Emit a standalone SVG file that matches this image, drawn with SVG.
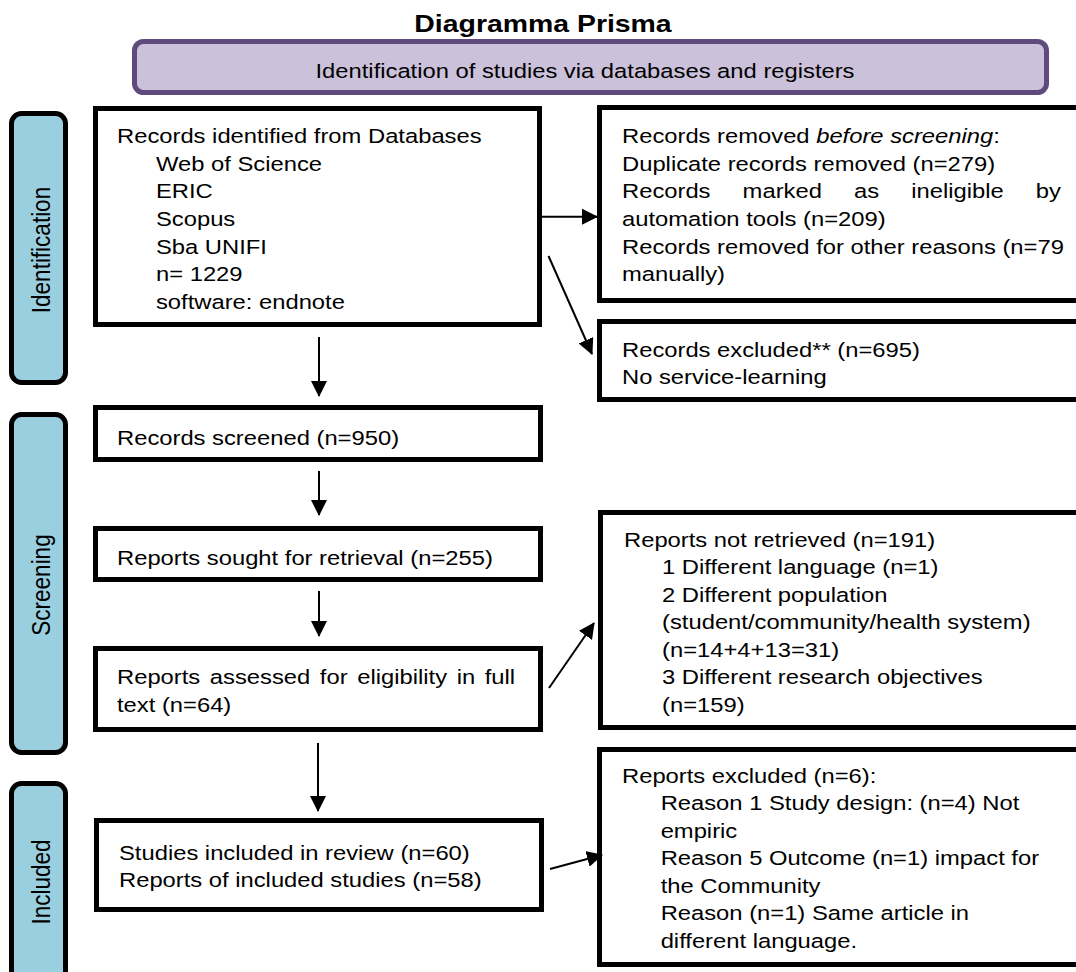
<svg xmlns="http://www.w3.org/2000/svg" width="1076" height="972" viewBox="0 0 1076 972">
<style>
  text { font-family: "Liberation Sans", Arial, sans-serif; fill: #000; }
  .body { font-size: 20.5px; }
  .lab { font-size: 22.5px; }
  .title { font-size: 24.5px; font-weight: bold; }
  .box { fill: #fff; stroke: #000; stroke-width: 5; }
  .side { fill: #9ACFE0; stroke: #000; stroke-width: 5; }
  .banner { fill: #CBC1DA; stroke: #5F4A7C; stroke-width: 5; }
  .conn line { stroke: #000; stroke-width: 2; marker-end: url(#ah); }
</style>
<defs>
  <marker id="ah" markerUnits="userSpaceOnUse" markerWidth="16" markerHeight="16" viewBox="0 0 16 16" refX="15" refY="8" orient="auto">
    <path d="M0,0 L16,8 L0,16 z" fill="#000"/>
  </marker>
</defs>
<rect width="1076" height="972" fill="#fff"/>

<g id="title">
  <text class="title" text-anchor="middle" transform="translate(543,32) scale(1.16,1)">Diagramma Prisma</text>
</g>

<g id="banner">
  <rect class="banner" x="134.5" y="41.5" width="912" height="51" rx="9"/>
  <text class="body" text-anchor="middle" transform="translate(585,78) scale(1.16,1)">Identification of studies via databases and registers</text>
</g>

<g id="label-identification">
  <rect class="side" x="11.5" y="113.5" width="54" height="269" rx="10"/>
  <text class="lab" text-anchor="middle" transform="translate(50,250) scale(1.16,1) rotate(-90)">Identification</text>
</g>
<g id="label-screening">
  <rect class="side" x="11.5" y="414.5" width="54" height="338" rx="10"/>
  <text class="lab" text-anchor="middle" transform="translate(50,585) scale(1.16,1) rotate(-90)">Screening</text>
</g>
<g id="label-included">
  <rect class="side" x="11.5" y="783.5" width="54" height="210" rx="10"/>
  <text class="lab" text-anchor="middle" transform="translate(50,882) scale(1.16,1) rotate(-90)">Included</text>
</g>

<g id="records-identified">
  <rect class="box" x="95.5" y="108.5" width="444" height="216"/>
  <text class="body" transform="translate(117,143) scale(1.16,1)">
    <tspan x="0" dy="0">Records identified from Databases</tspan>
    <tspan x="33.6" dy="27.7">Web of Science</tspan>
    <tspan x="33.6" dy="27.7">ERIC</tspan>
    <tspan x="33.6" dy="27.7">Scopus</tspan>
    <tspan x="33.6" dy="27.7">Sba UNIFI</tspan>
    <tspan x="33.6" dy="27.7">n= 1229</tspan>
    <tspan x="33.6" dy="27.7">software: endnote</tspan>
  </text>
</g>

<g id="records-removed">
  <rect class="box" x="599.5" y="107.5" width="500" height="193"/>
  <text class="body" transform="translate(622,143) scale(1.16,1)">
    <tspan x="0" dy="0">Records removed <tspan font-style="italic">before screening</tspan>:</tspan>
    <tspan x="0" dy="27.7">Duplicate records removed (n=279)</tspan>
  </text>
  <text class="body" transform="translate(622,198.4) scale(1.16,1)" word-spacing="22">Records marked as ineligible by</text>
  <text class="body" transform="translate(622,226.1) scale(1.16,1)">
    <tspan x="0" dy="0">automation tools (n=209)</tspan>
    <tspan x="0" dy="27.7">Records removed for other reasons (n=79</tspan>
    <tspan x="0" dy="27.7">manually)</tspan>
  </text>
</g>

<g id="records-excluded">
  <rect class="box" x="599.5" y="321.5" width="500" height="78"/>
  <text class="body" transform="translate(622,357) scale(1.16,1)">
    <tspan x="0" dy="0">Records excluded** (n=695)</tspan>
    <tspan x="0" dy="27.5">No service-learning</tspan>
  </text>
</g>

<g id="records-screened">
  <rect class="box" x="95.5" y="407.5" width="445" height="52"/>
  <text class="body" transform="translate(117,445) scale(1.16,1)">Records screened (n=950)</text>
</g>

<g id="reports-sought">
  <rect class="box" x="95.5" y="528.5" width="445" height="51"/>
  <text class="body" transform="translate(117,565) scale(1.16,1)">Reports sought for retrieval (n=255)</text>
</g>

<g id="reports-assessed">
  <rect class="box" x="95.5" y="648.5" width="445" height="81"/>
  <text class="body" transform="translate(117,684) scale(1.16,1)" word-spacing="2.6">Reports assessed for eligibility in full</text>
  <text class="body" transform="translate(117,711.7) scale(1.16,1)">text (n=64)</text>
</g>

<g id="reports-not-retrieved">
  <rect class="box" x="600.5" y="512.5" width="500" height="215"/>
  <text class="body" transform="translate(624,547) scale(1.16,1)">
    <tspan x="0" dy="0">Reports not retrieved (n=191)</tspan>
    <tspan x="32.8" dy="27.5">1 Different language (n=1)</tspan>
    <tspan x="32.8" dy="27.5">2 Different population</tspan>
    <tspan x="32.8" dy="27.5">(student/community/health system)</tspan>
    <tspan x="32.8" dy="27.5">(n=14+4+13=31)</tspan>
    <tspan x="32.8" dy="27.5">3 Different research objectives</tspan>
    <tspan x="32.8" dy="27.5">(n=159)</tspan>
  </text>
</g>

<g id="reports-excluded">
  <rect class="box" x="599.5" y="749.5" width="500" height="215"/>
  <text class="body" transform="translate(622,782.5) scale(1.16,1)">
    <tspan x="0" dy="0">Reports excluded (n=6):</tspan>
    <tspan x="33.3" dy="27.6">Reason 1 Study design: (n=4) Not</tspan>
    <tspan x="33.3" dy="27.6">empiric</tspan>
    <tspan x="33.3" dy="27.6">Reason 5 Outcome (n=1) impact for</tspan>
    <tspan x="33.3" dy="27.6">the Community</tspan>
    <tspan x="33.3" dy="27.6">Reason (n=1) Same article in</tspan>
    <tspan x="33.3" dy="27.6">different language.</tspan>
  </text>
</g>

<g id="studies-included">
  <rect class="box" x="96.5" y="820.5" width="445" height="89"/>
  <text class="body" transform="translate(119,860) scale(1.16,1)">
    <tspan x="0" dy="0">Studies included in review (n=60)</tspan>
    <tspan x="0" dy="26.7">Reports of included studies (n=58)</tspan>
  </text>
</g>

<g id="connectors" class="conn">
  <line x1="542" y1="216.7" x2="597" y2="216.7"/>
  <line x1="548.5" y1="256" x2="592" y2="354"/>
  <line x1="319" y1="337" x2="319" y2="396"/>
  <line x1="319" y1="471" x2="319" y2="515"/>
  <line x1="319" y1="591" x2="319" y2="636"/>
  <line x1="318" y1="743" x2="318" y2="811"/>
  <line x1="549" y1="688" x2="594" y2="623"/>
  <line x1="550" y1="869" x2="602" y2="855"/>
</g>
</svg>
